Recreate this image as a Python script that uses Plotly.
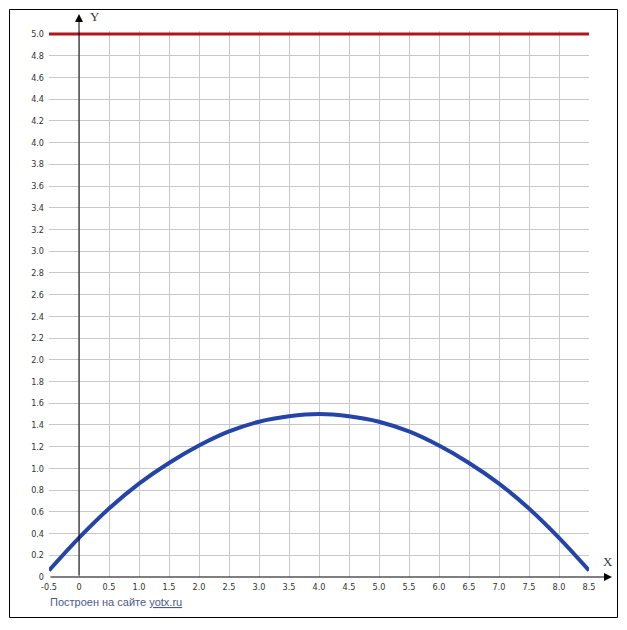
import plotly.graph_objects as go

# ---- data ----
curve_x = [-0.5, 0.0, 0.5, 1.0, 1.5, 2.0, 2.5, 3.0, 3.5, 4.0,
           4.5, 5.0, 5.5, 6.0, 6.5, 7.0, 7.5, 8.0, 8.5]
curve_y = [0.06, 0.36, 0.63, 0.86, 1.05, 1.21, 1.34, 1.43, 1.48, 1.50,
           1.48, 1.43, 1.34, 1.21, 1.05, 0.86, 0.63, 0.36, 0.06]
line_x = [-0.5, 8.5]
line_y = [5.0, 5.0]

x_ticks = [-0.5, 0, 0.5, 1.0, 1.5, 2.0, 2.5, 3.0, 3.5, 4.0, 4.5, 5.0, 5.5, 6.0, 6.5, 7.0, 7.5, 8.0, 8.5]
x_labels = ["-0.5", "0", "0.5", "1.0", "1.5", "2.0", "2.5", "3.0", "3.5", "4.0",
            "4.5", "5.0", "5.5", "6.0", "6.5", "7.0", "7.5", "8.0", "8.5"]
y_ticks = [round(i * 0.2, 1) for i in range(26)]
y_labels = ["0"] + ["%.1f" % v for v in y_ticks[1:]]

# ---- layout geometry (pixels, page coordinates) ----
OFF = 8                      # default body margin of the html page
W, H = 627 - OFF, 630 - OFF  # figure size
PL, PR, PT, PB = 49, 589, 31, 577   # plot area in page pixels
L, R, T, B = PL - OFF, W - (PR - OFF), PT - OFF, H - (PB - OFF)
PW, PH = PR - PL, PB - PT
y_top = 5.0 * PH / (PH - 3)  # small headroom so red line is not clipped


def px(xp):
    return (xp - PL) / PW


def py(yp):
    return (PB - yp) / PH


fig = go.Figure()
fig.add_trace(go.Scatter(x=curve_x, y=curve_y, mode="lines",
                         line=dict(color="#2444a8", width=4, shape="spline"),
                         hoverinfo="skip", showlegend=False))
fig.add_trace(go.Scatter(x=line_x, y=line_y, mode="lines",
                         line=dict(color="#b2151c", width=3),
                         hoverinfo="skip", showlegend=False))

tickfont = dict(family="DejaVu Sans Condensed", size=9, color="#333333")
fig.update_xaxes(range=[-0.5, 8.5], tickvals=x_ticks, ticktext=x_labels,
                 showgrid=True, gridcolor="#c8c8c8", gridwidth=1,
                 zeroline=False, showline=False, ticks="", tickfont=tickfont,
                 ticklabelstandoff=3, fixedrange=True)
fig.update_yaxes(range=[0, y_top], tickvals=y_ticks, ticktext=y_labels,
                 showgrid=True, gridcolor="#c8c8c8", gridwidth=1,
                 zeroline=False, showline=False, ticks="", tickfont=tickfont,
                 ticklabelstandoff=4, fixedrange=True)

annotations = [
    # Y axis arrow
    dict(x=0, xref="x", y=py(14), yref="paper", ax=0, ay=PB - 14,
         showarrow=True, arrowhead=2, arrowsize=1.6, arrowwidth=1,
         arrowcolor="#000000", text=""),
    # X axis arrow
    dict(x=px(612), xref="paper", y=0, yref="y", ax=-(612 - PL), ay=0,
         showarrow=True, arrowhead=2, arrowsize=1.6, arrowwidth=1,
         arrowcolor="#000000", text=""),
    dict(x=px(88), xref="paper", y=py(16), yref="paper", text="Y",
         showarrow=False, xanchor="left", yanchor="middle",
         font=dict(family="Liberation Serif", size=13, color="#333333")),
    dict(x=px(601), xref="paper", y=py(561), yref="paper", text="X",
         showarrow=False, xanchor="left", yanchor="middle",
         font=dict(family="Liberation Serif", size=13, color="#333333")),
    dict(x=px(48), xref="paper", y=py(602), yref="paper",
         text="Построен на сайте <u>yotx.ru</u>",
         showarrow=False, xanchor="left", yanchor="middle",
         font=dict(family="Liberation Sans", size=11, color="#4a5a8c")),
]

shapes = [
    dict(type="rect", xref="paper", yref="paper",
         x0=px(9.5), x1=px(617.5), y0=py(617.5), y1=py(9.5),
         line=dict(color="#000000", width=1), fillcolor="rgba(0,0,0,0)",
         layer="below"),
]

fig.update_layout(width=W, height=H, margin=dict(l=L, r=R, t=T, b=B),
                  paper_bgcolor="white", plot_bgcolor="white",
                  annotations=annotations, shapes=shapes, showlegend=False)

fig.write_html("out.html", config={"displayModeBar": False})
